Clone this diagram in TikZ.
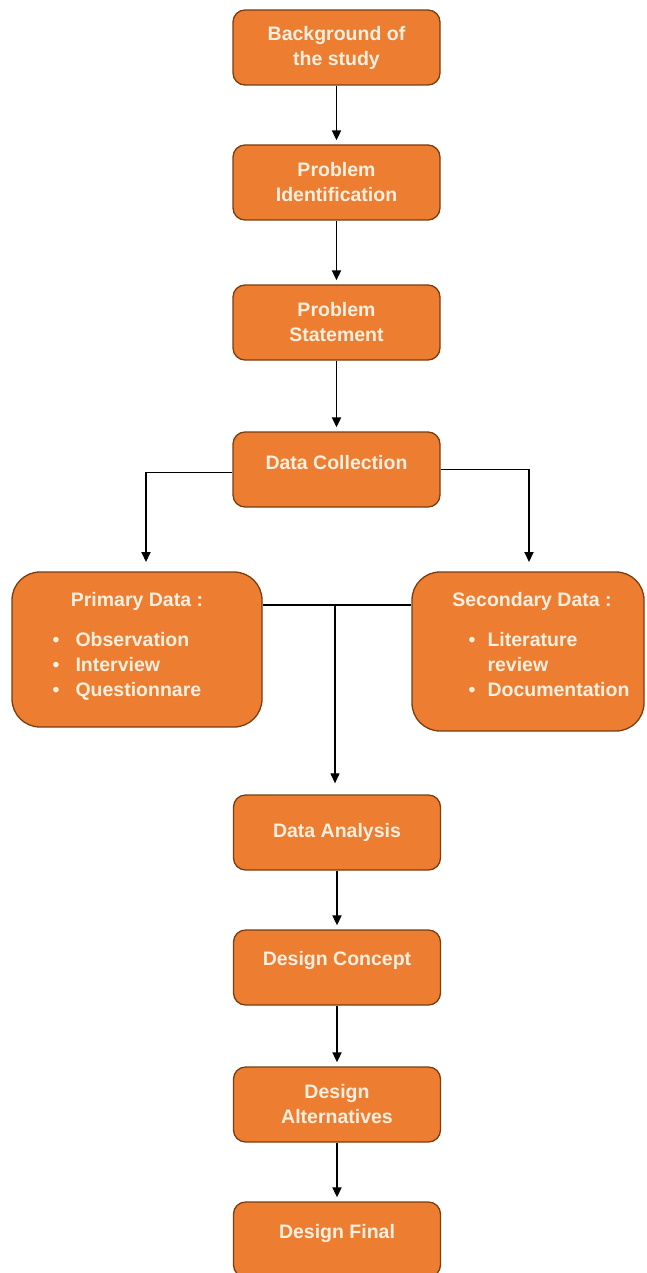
\documentclass[tikz,border=0pt]{standalone}
\usepackage{fontspec}
\setmainfont{Liberation Sans}
\usetikzlibrary{arrows.meta}
\definecolor{boxfill}{HTML}{ED7D31}
\definecolor{boxline}{HTML}{7A3E12}
\definecolor{txt}{HTML}{FBEFDF}
\tikzset{
  box/.style={draw=boxline, line width=1.3pt, fill=boxfill, rounded corners=12pt,
    minimum width=207pt, minimum height=75pt, inner sep=0pt},
  bigbox/.style={box, rounded corners=28pt},
  lbl/.style={text=txt, font=\bfseries\fontsize{19.5}{25}\selectfont, align=center},
  lbll/.style={text=txt, font=\bfseries\fontsize{19.5}{25}\selectfont, align=left},
  tip/.style={-{Triangle[length=10pt,width=9pt]}},
  arr/.style={line width=1.8pt, tip, shorten >=4pt},
  thinarr/.style={line width=1.1pt, tip, shorten >=11pt},
  link/.style={line width=1.8pt}
}
\begin{document}
\begin{tikzpicture}[x=1pt,y=-1pt]
\useasboundingbox (0,0) rectangle (646,1273);
\begin{scope}
\clip (0,0) rectangle (646,1273);
\node[box, lbl] (b1) at (336.5,47.5) {Background of\\the study};
\node[box, lbl] (b2) at (336.5,182.5) {Problem\\Identification};
\node[box, lbl] (b3) at (336.5,322.5) {Problem\\Statement};
\node[box] (dc) at (336.5,469.5) {};
\node[lbl] (dct) at (336.5,463) {Data Collection};
\node[bigbox, minimum width=250pt, minimum height=155pt] (prim) at (137,649.5) {};
\node[lbl] (primt) at (137,601) {Primary Data :};
\node[lbll, anchor=north west] (priml) at (49,629) {%
  \makebox[23pt][l]{\textbullet}Observation\\
  \makebox[23pt][l]{\textbullet}Interview\\
  \makebox[23pt][l]{\textbullet}Questionnare};
\node[bigbox, minimum width=232pt, minimum height=159pt] (sec) at (528,651.5) {};
\node[lbl] (sect) at (532,601) {Secondary Data :};
\node[lbll, anchor=north west] (secl) at (465,629) {%
  \makebox[19pt][l]{\textbullet}Literature\\
  \hspace*{19pt}review\\
  \makebox[19pt][l]{\textbullet}Documentation};
\node[box, lbl] (da) at (337,832.5) {Data Analysis};
\node[box] (dcon) at (337,967.5) {};
\node[lbl] (dcont) at (337,960) {Design Concept};
\node[box, lbl] (dalt) at (337,1104.5) {Design\\Alternatives};
\node[box] (dfin) at (337,1239.5) {};
\node[lbl] (dfint) at (337,1233) {Design Final};
\end{scope}

\coordinate (pl) at (146,562);
\coordinate (pr) at (529,562);
\coordinate (hy) at (0,605);
\coordinate (j) at (335,605);

\draw[arr] (b1.south) -- (b2.north);
\draw[arr] (b2.south) -- (b3.north);
\draw[arr] (b3.south) -- (dc.north);
\draw[line width=1.8pt, tip] ([yshift=-3pt]dc.west) -| (pl);
\draw[line width=1.8pt, tip] (dc.east) -| (pr);
\draw[link] (prim.east |- hy) -- (sec.west |- hy);
\draw[thinarr] (j) -- (da.north -| j);
\draw[arr] (da.south) -- (dcon.north);
\draw[arr] (dcon.south) -- (dalt.north);
\draw[arr] (dalt.south) -- (dfin.north);
\end{tikzpicture}
\end{document}
